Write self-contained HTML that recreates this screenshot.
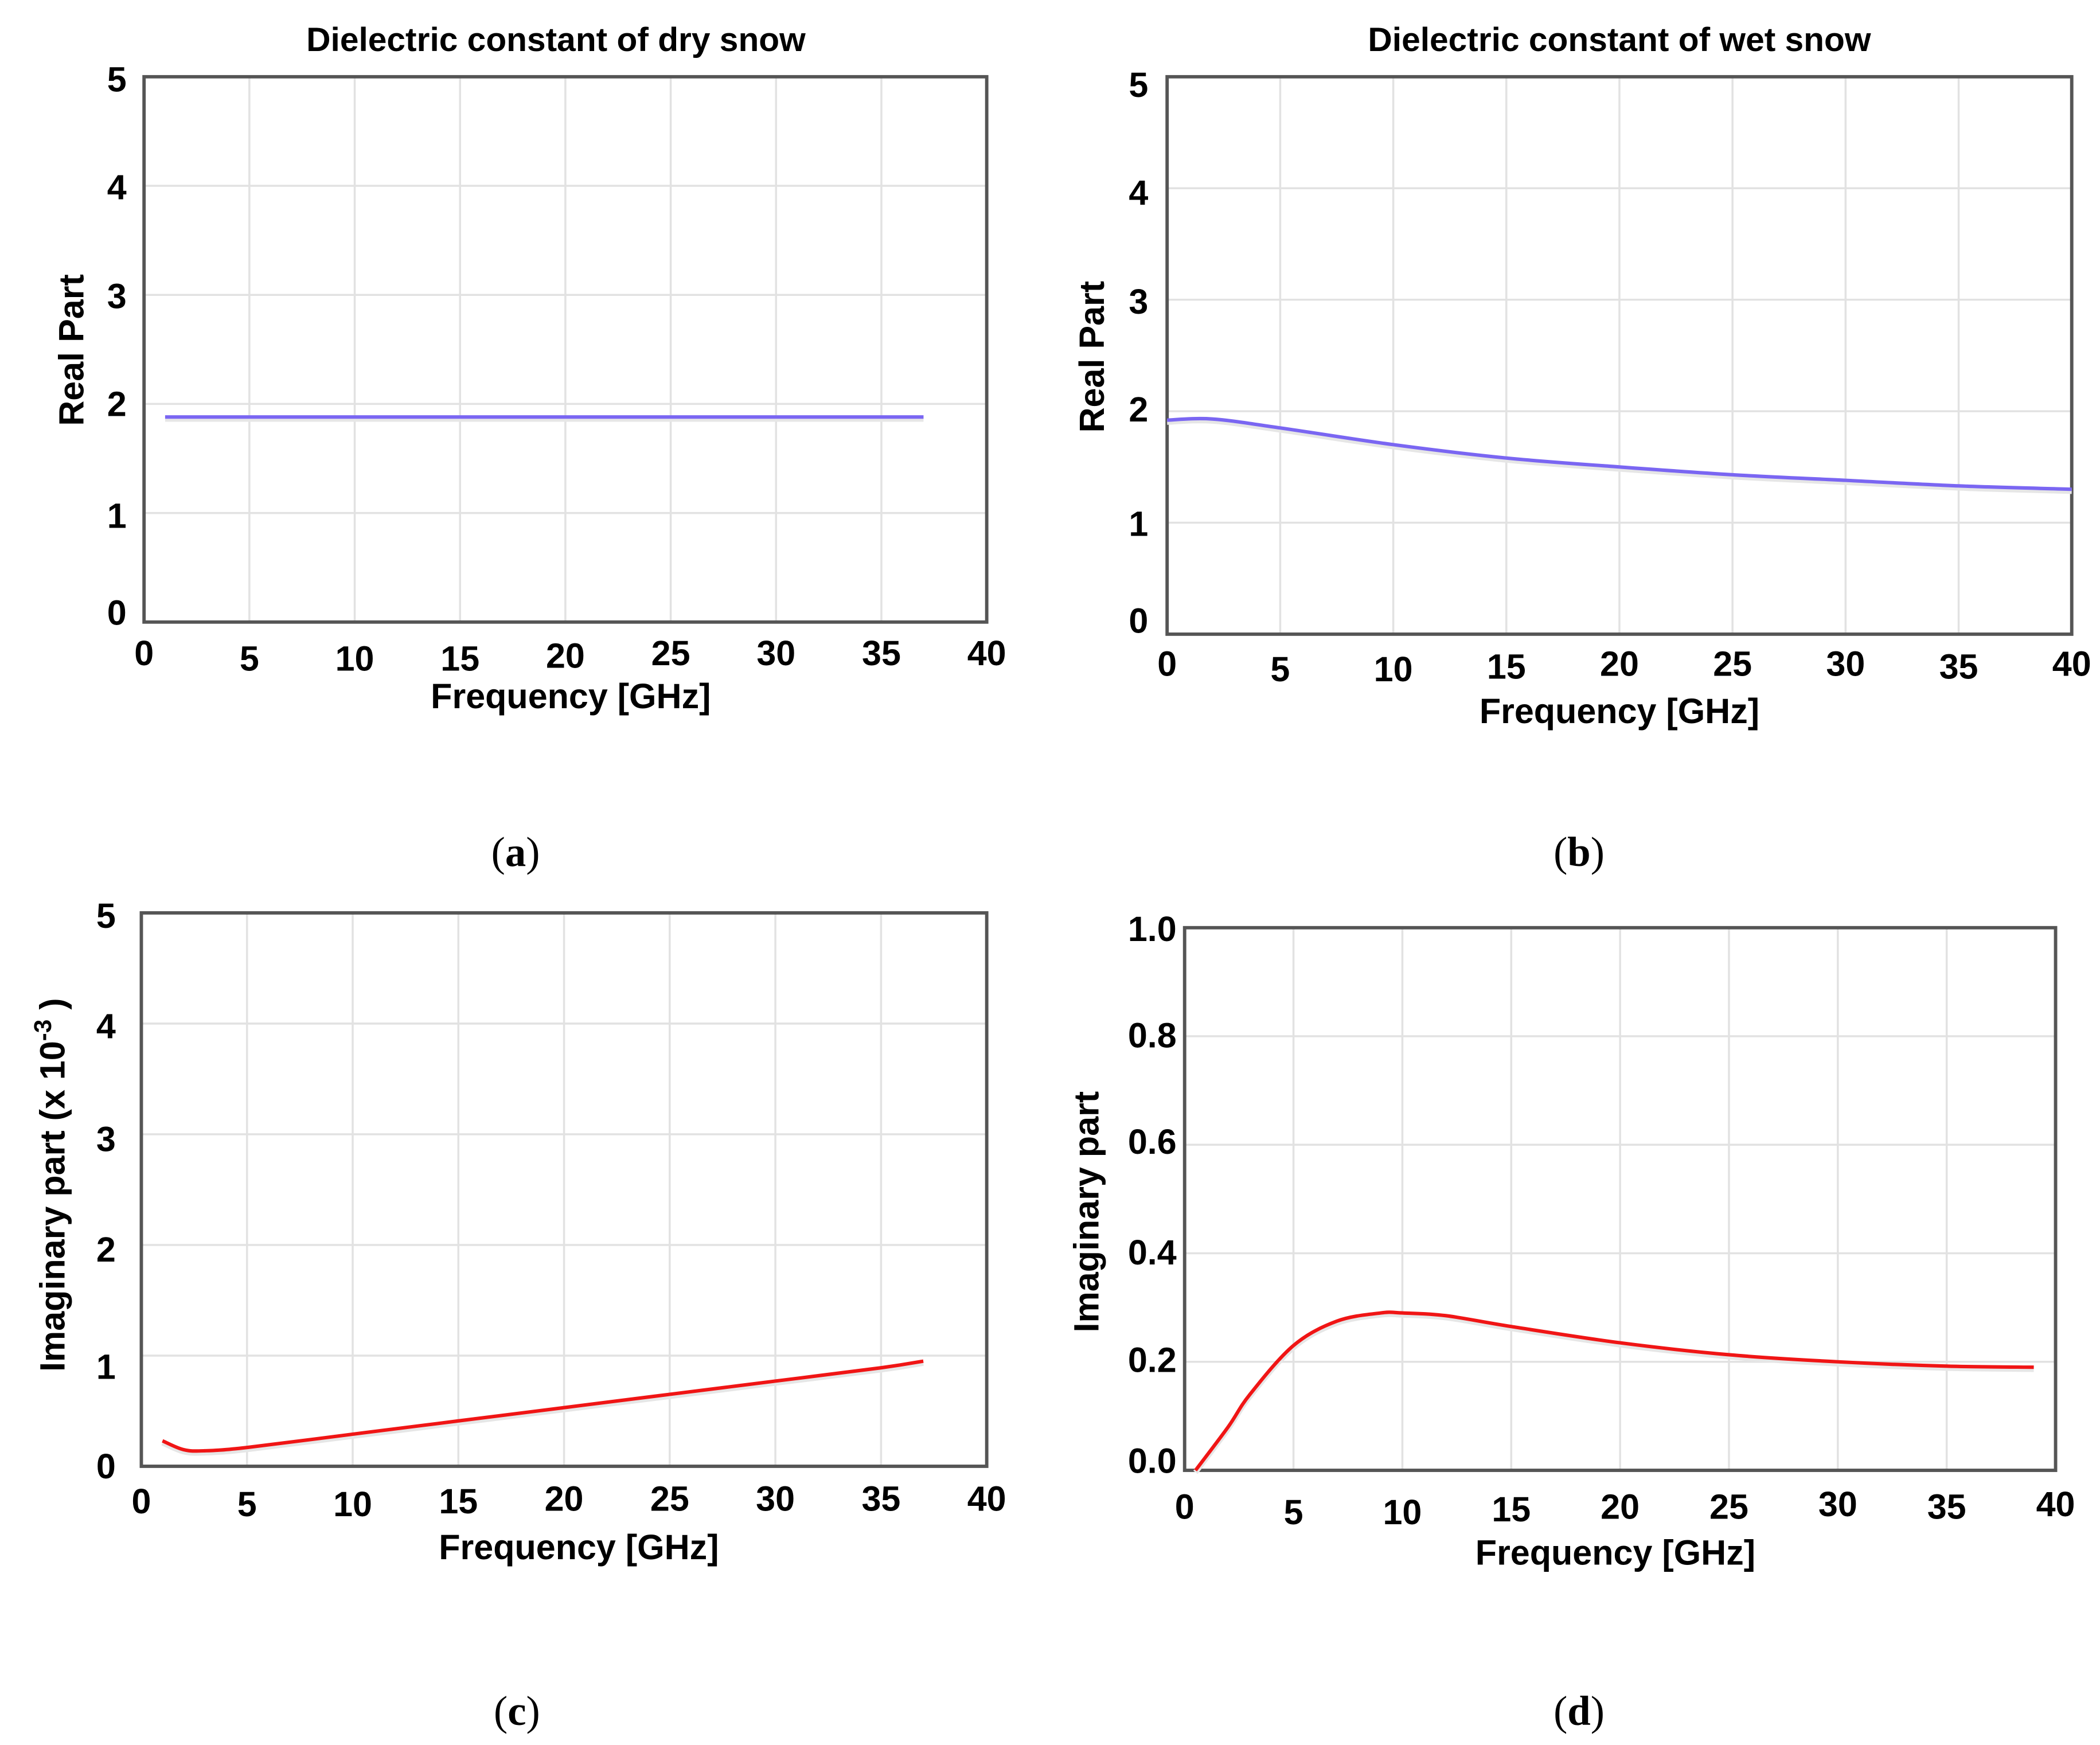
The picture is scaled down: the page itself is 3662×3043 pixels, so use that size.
<!DOCTYPE html>
<html><head><meta charset="utf-8"><style>
html,body{margin:0;padding:0;background:#fff;}
svg{display:block;}
.t{font-family:"Liberation Sans",Arial,sans-serif;font-weight:bold;fill:#000;}
.cap{font-family:"Liberation Serif",serif;fill:#000;}
</style></head><body>
<svg id="fig" width="3662" height="3043" viewBox="0 0 1560 1296" preserveAspectRatio="none"></svg>
<script>
// ---- data ----
const xTicks = [0,5,10,15,20,25,30,35,40];
const yTicksReal = [0,1,2,3,4,5];
const yTicksImD = [0,0.2,0.4,0.6,0.8,1.0];
const yTickLabelsImD = ["0.0","0.2","0.4","0.6","0.8","1.0"];

const freqA = [1,5,10,15,20,25,30,35,37];
const realDry = [1.88,1.88,1.88,1.88,1.88,1.88,1.88,1.88,1.88];

const freqB = [0,2,5,10,15,20,25,30,35,40];
const realWet = [1.92,1.93,1.85,1.70,1.58,1.50,1.43,1.38,1.33,1.30];

const freqC = [1,2,3,5,10,15,20,25,30,35,37];
const imagDry = [0.23,0.15,0.14,0.17,0.29,0.41,0.53,0.65,0.77,0.89,0.95];

const freqD = [0.5,2,3,5,7,9,10,12,15,20,25,30,35,39];
const imagWet = [0,0.08,0.14,0.23,0.275,0.29,0.29,0.285,0.265,0.235,0.213,0.2,0.192,0.19];

// ---- helpers ----
const NS="http://www.w3.org/2000/svg";
const svg=document.getElementById('fig');
function mk(tag,attrs,parent){const e=document.createElementNS(NS,tag);for(const k in attrs)e.setAttribute(k,attrs[k]);(parent||svg).appendChild(e);return e;}
function txt(s,attrs,parent){const e=mk('text',attrs,parent);e.textContent=s;return e;}
function smooth(pts){
  let d=`M${pts[0][0]},${pts[0][1]}`;
  for(let i=0;i<pts.length-1;i++){
    const p0=pts[i-1]||pts[i],p1=pts[i],p2=pts[i+1],p3=pts[i+2]||p2;
    const c1=[p1[0]+(p2[0]-p0[0])/6,p1[1]+(p2[1]-p0[1])/6];
    const c2=[p2[0]-(p3[0]-p1[0])/6,p2[1]-(p3[1]-p1[1])/6];
    d+=` C${c1[0]},${c1[1]} ${c2[0]},${c2[1]} ${p2[0]},${p2[1]}`;
  }
  return d;
}
function panel(cfg){
  const g=mk('g',{});
  
  
  const {x0,x1,y0,y1,ymax}=cfg;
  const sx=v=>x0+(v/40)*(x1-x0);
  const sy=v=>y1-(v/ymax)*(y1-y0);
  xTicks.forEach((t,i)=>{
    if(t>0&&t<40){const l=mk('line',{x1:sx(t),x2:sx(t),y1:y0,y2:y1,stroke:'#e2e2e2','stroke-width':1.5},g);
    }
    const tl=txt(String(t),{x:sx(t),y:cfg.xLabY+(cfg.xJit?cfg.xJit[i]:0),'text-anchor':'middle','font-size':26,class:'t'},g);
    
  });
  cfg.yT.forEach((t,i)=>{
    if(t>0&&t<ymax){const l=mk('line',{x1:x0,x2:x1,y1:sy(t),y2:sy(t),stroke:'#e2e2e2','stroke-width':1.5},g);
    }
    const tl=txt(cfg.yL[i],{x:cfg.yLabX,y:cfg.yPos?cfg.yPos[i]:sy(t)+9,'text-anchor':'end','font-size':26,class:'t'},g);
    
  });
  const fr=mk('rect',{x:x0,y:y0,width:x1-x0,height:y1-y0,fill:'none',stroke:'#555','stroke-width':2.5},g);
  
  const pts=cfg.xs.map((f,i)=>[sx(f),sy(cfg.ys[i])]);
  const sh=mk('path',{d:smooth(pts),fill:'none',stroke:'#e6e6e6','stroke-width':4,transform:'translate(0,1.5)'},g);
  
  const p=mk('path',{d:smooth(pts),fill:'none',stroke:cfg.color,'stroke-width':2.6},g);
  
  if(cfg.title){const tt=txt(cfg.title,{x:cfg.titleX,y:38,'text-anchor':'middle','font-size':25,class:'t'},g);
    }
  const xl=txt('Frequency [GHz]',{x:cfg.xtX,y:cfg.xtY,'text-anchor':'middle','font-size':26,class:'t'},g);
  
  const yl=txt('',{x:0,y:0,'text-anchor':'middle','font-size':26,class:'t',transform:`translate(${cfg.ytX},${cfg.ytY}) rotate(-90)`},g);
  
  yl.innerHTML=cfg.ytHtml;
  const cp=txt('',{x:cfg.capX,y:cfg.capY,'text-anchor':'middle','font-size':31,class:'cap'},g);
  
  cp.innerHTML='(<tspan font-weight="bold">'+cfg.cap+'</tspan>)';
}
const realLabels=yTicksReal.map(String);
panel({name:'panel-a',x0:107,x1:733,y0:57,y1:462,ymax:5,yT:yTicksReal,yL:realLabels,
  yPos:[464,392,309,229,148,68],yLabX:94,xLabY:496,xJit:[-2,2,2,2,0,-2,-2,-2,-2],
  xs:freqA,ys:realDry,color:'#7a66f2',seriesName:'dry-snow-real-line',
  title:'Dielectric constant of dry snow',titleX:413,xtX:424,xtY:526,ytX:62,ytY:260,ytHtml:'Real Part',
  cap:'a',capX:383,capY:643});
panel({name:'panel-b',x0:867,x1:1539,y0:57,y1:471,ymax:5,yT:yTicksReal,yL:realLabels,
  yPos:[470,398,313,233,152,72],yLabX:853,xLabY:504,xJit:[-2,2,2,0,-2,-2,-2,0,-2],
  xs:freqB,ys:realWet,color:'#7a66f2',seriesName:'wet-snow-real-line',
  title:'Dielectric constant of wet snow',titleX:1203,xtX:1203,xtY:537,ytX:820,ytY:265,ytHtml:'Real Part',
  cap:'b',capX:1173,capY:643});
panel({name:'panel-c',x0:105,x1:733,y0:678,y1:1089,ymax:5,yT:yTicksReal,yL:realLabels,
  yPos:[1098,1024,937,855,771,689],yLabX:86,xLabY:1124,xJit:[0,2,2,0,-2,-2,-2,-2,-2],
  xs:freqC,ys:imagDry,color:'#f01515',seriesName:'dry-snow-imag-line',
  xtX:430,xtY:1158,ytX:48,ytY:880,ytHtml:'Imaginary part (x 10<tspan dy="-10" font-size="18">-3</tspan><tspan dy="10"> )</tspan>',
  cap:'c',capX:384,capY:1281});
panel({name:'panel-d',x0:880,x1:1527,y0:689,y1:1092,ymax:1,yT:yTicksImD,yL:yTickLabelsImD,
  yPos:[1094,1019,939,857,778,699],yLabX:874,xLabY:1130,xJit:[-2,2,2,0,-2,-2,-4,-2,-4],
  xs:freqD,ys:imagWet,color:'#f01515',seriesName:'wet-snow-imag-line',
  xtX:1200,xtY:1162,ytX:816,ytY:900,ytHtml:'Imaginary part',
  cap:'d',capX:1173,capY:1281});
</script>
</body></html>
